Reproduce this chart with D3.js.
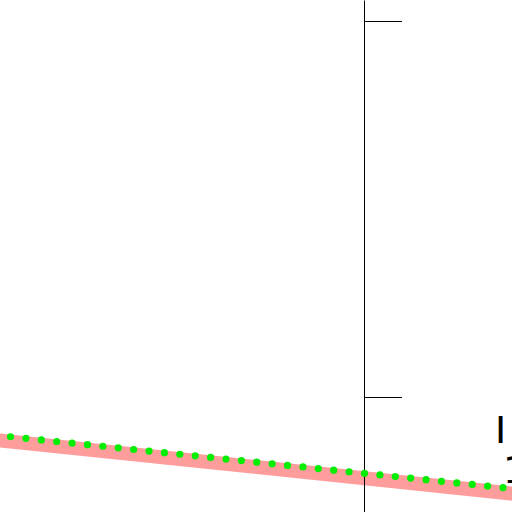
<!DOCTYPE html>
<html>
<head>
<meta charset="utf-8">
<script src="https://cdn.jsdelivr.net/npm/d3@7"></script>
<style>
  body { margin: 0; background: #fff; }
  svg { display: block; }
</style>
</head>
<body>
<svg id="chart"></svg>
<script>
// data
var dotX = [-24, -23, -22, -21, -20, -19, -18, -17, -16, -15, -14, -13, -12, -11, -10, -9, -8, -7, -6, -5,
             -4, -3, -2, -1, 0, 1, 2, 3, 4, 5, 6, 7, 8, 9, 10]
var dotY = [-10.15, -10.57, -10.99, -11.42, -11.84, -12.26, -12.69, -13.11, -13.53, -13.96,
            -14.38, -14.80, -15.22, -15.65, -16.07, -16.49, -16.92, -17.34, -17.76, -18.19,
            -18.61, -19.03, -19.45, -19.88, -20.30, -20.72, -21.15, -21.57, -21.99, -22.42,
            -22.84, -23.26, -23.68, -24.11, -24.53]
var bandX = [-24, 10]
var bandY = [-11.43, -25.87]
var yTicks = [0, 100]
var labels = ["I", "1"]

const width = 512
const height = 512

var svg = d3.select('svg#chart').attr('width', width).attr('height', height)

var x = d3.scaleLinear()
    .domain([0, 1])
    .range([364.5, 364.5 + 15.39])

var y = d3.scaleLinear()
    .domain([0, 100])
    .range([397, 21])

// pink band
var band = bandX.map(function(d, i) { return {x: d, y: bandY[i]} })
svg.append("path")
    .datum(band)
    .attr("fill", "none")
    .attr("stroke", "#ff9d9d")
    .attr("stroke-width", 14)
    .attr("d", d3.line().x(d => x(d.x)).y(d => y(d.y)))

// vertical axis, full height
var yAxisScale = y.copy().domain([y.invert(height), y.invert(0)]).range([height, 0])
svg.append("g")
    .attr("transform", "translate(" + (x(0) - 0.5) + ",0)")
    .call(d3.axisRight(yAxisScale).tickValues(yTicks).tickFormat("").tickSize(38).tickSizeOuter(0))
    .call(g => g.selectAll("path, line").attr("stroke", "#000").attr("stroke-width", 1))

// green dots
var dots = dotX.map(function(d, i) { return {x: d, y: dotY[i]} })
svg.append("g")
    .selectAll("circle")
    .data(dots)
    .enter().append("circle")
    .attr("cx", d => x(d.x))
    .attr("cy", d => y(d.y))
    .attr("r", 3.6)
    .attr("fill", "#00ee00")

// cut-off text at the right edge
svg.append("g")
    .selectAll("text")
    .data(labels)
    .enter().append("text")
    .attr("x", (d, i) => i == 0 ? 495 : 503)
    .attr("y", (d, i) => 443 + i * 40)
    .style("font-family", "DejaVu Sans, sans-serif")
    .style("font-size", "38px")
    .attr("fill", "#000")
    .text(d => d)
</script>
</body>
</html>
